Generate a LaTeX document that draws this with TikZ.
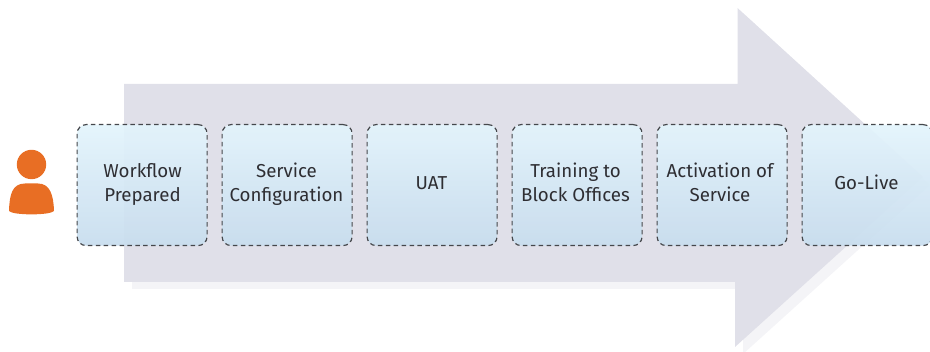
\documentclass[tikz,border=0pt]{standalone}
\usepackage{fontspec}
\setmainfont{Fira Sans}
\definecolor{arrowfill}{HTML}{E0E0E9}
\definecolor{arrowshadow}{HTML}{F4F4F7}
\definecolor{boxtop}{HTML}{E3F4FC}
\definecolor{boxbot}{HTML}{C8DDEE}
\definecolor{ink}{HTML}{2E2E33}
\definecolor{boxline}{HTML}{45474B}
\definecolor{person}{HTML}{E86E24}
\tikzset{
  x=1pt,y=-1pt,
  stepbox/.style={draw=boxline,dash pattern=on 4.5pt off 3.4pt,line width=1.2pt,rounded corners=9pt,
    minimum width=130pt,minimum height=121pt,inner sep=0pt,top color=boxtop,bottom color=boxbot,
    fill opacity=0.94,anchor=north west},
  steptext/.style={text=ink,align=center,inner sep=0pt,font=\fontsize{18.7}{24}\selectfont},
}
\begin{document}
\begin{tikzpicture}
\useasboundingbox (0,0) rectangle (930,352);
\clip (0,0) rectangle (930,352);
\fill[arrowshadow] (132,91) -- (745,91) -- (745,15) -- (930,185) -- (743,354) -- (743,289) -- (132,289) -- cycle;
\fill[arrowfill] (124,84) -- (737.5,84) -- (737.5,8) -- (923,177) -- (735,347) -- (735,282) -- (124,282) -- cycle;
\node[stepbox] (a) at (76.5,124) {};
\node[stepbox] (b) at (221.5,124) {};
\node[stepbox] (c) at (366.5,124) {};
\node[stepbox] (d) at (511.5,124) {};
\node[stepbox] (e) at (656.5,124) {};
\node[stepbox] (f) at (801.5,124) {};
\node[steptext] (ta) at (142.5,185) {\strut Workflow\\\strut Prepared};
\node[steptext] (tb) at (286.5,185) {\strut Service\\\strut Configuration};
\node[steptext] (tc) at (431.5,185) {\strut UAT};
\node[steptext] (td) at (575.5,185) {\strut Training to\\\strut Block Offices};
\node[steptext] (te) at (720,185) {\strut Activation of\\\strut Service};
\node[steptext] (tf) at (866.5,185) {\strut Go-Live};
\fill[person] (31.5,164.5) circle (14.7);
\fill[person] (9,211) .. controls (9.5,195) and (12,183.5) .. (25,183.5) -- (38,183.5) .. controls (50,183.5) and (53.5,195) .. (54,211) .. controls (50,215.5) and (13,215.5) .. (9,211) -- cycle;
\end{tikzpicture}
\end{document}
